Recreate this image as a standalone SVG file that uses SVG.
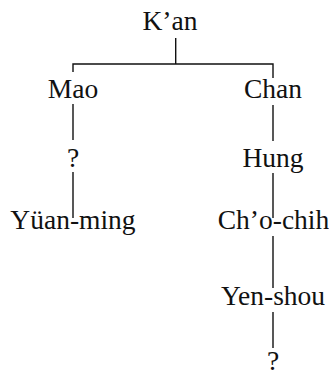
<svg xmlns="http://www.w3.org/2000/svg" width="329" height="374" viewBox="0 0 329 374">
<style>
text{font-size:27.5px;fill:#111;text-anchor:middle}
.c line,.c path{stroke:#111;stroke-width:1.4;fill:none}
</style>
<rect width="329" height="374" fill="#fff"/>
<g class="c" id="connectors">
<line x1="175.7" y1="38" x2="175.7" y2="64"/>
<path d="M73 72V64H273V78"/>
<line x1="73" y1="104" x2="73" y2="140"/>
<line x1="73" y1="172" x2="73" y2="218"/>
<line x1="273" y1="105" x2="273" y2="141"/>
<line x1="273" y1="173" x2="273" y2="218"/>
<line x1="273" y1="236" x2="273" y2="288"/>
<line x1="273" y1="312" x2="273" y2="348"/>
</g>
<g font-family="Liberation Serif, DejaVu Serif, serif">
<g id="kan"><text x="170" y="29.5">K’an</text></g>
<g id="mao"><text x="73" y="97.5">Mao</text></g>
<g id="chan"><text x="273" y="97.5">Chan</text></g>
<g id="unknown1"><text x="73" y="166.5">?</text></g>
<g id="hung"><text x="273" y="166.5">Hung</text></g>
<g id="yuanming"><text x="73" y="228.5">Yüan-ming</text></g>
<g id="chochih"><text x="273.5" y="228.5">Ch’o-chih</text></g>
<g id="yenshou"><text x="273" y="305">Yen-shou</text></g>
<g id="unknown2"><text x="273" y="369.5">?</text></g>
</g>
</svg>
